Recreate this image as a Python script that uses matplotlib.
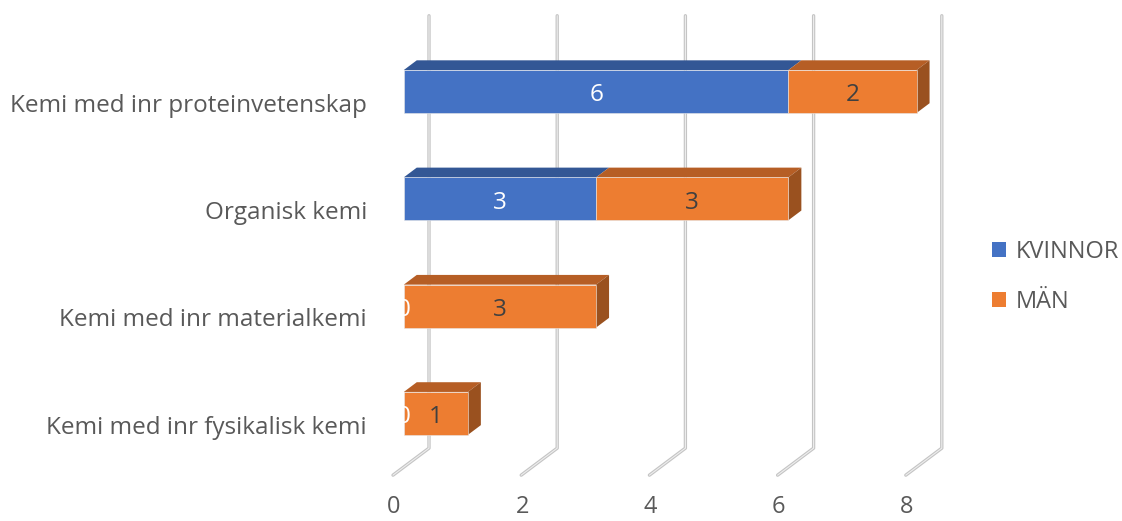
import matplotlib
matplotlib.use("Agg")
import matplotlib.pyplot as plt
from matplotlib.patches import Polygon, Patch

# ---- data ----
categories = ["Kemi med inr proteinvetenskap", "Organisk kemi",
              "Kemi med inr materialkemi", "Kemi med inr fysikalisk kemi"]
series_names = ["KVINNOR", "MÄN"]
kvinnor = [6, 3, 0, 0]
man = [2, 3, 3, 1]
x_ticks = [0, 2, 4, 6, 8]

# ---- style ----
plt.rcParams['font.family'] = ['Open Sans', 'DejaVu Sans']
TXT = '#595959'
front_cols = ['#4472C4', '#ED7D31']
top_cols = ['#335795', '#B65E25']
side_cols = ['#2B4A80', '#9A511F']
label_cols = ['white', '#404040']

W, H = 1122, 521
fig = plt.figure(figsize=(W / 100, H / 100), dpi=100)
ax = fig.add_axes([0, 0, 1, 1])
ax.axis('off')

# pixel mapping (front floor plane d=0): px = 393 + 64.1*v ; py = 99.6 + 107.3*i
SX, X0 = 64.1, 393.0
SY, Y0 = 107.3, 99.6
ax.set_xlim(-X0 / SX, (W - X0) / SX)
ax.set_ylim((H - Y0) / SY, -Y0 / SY)

DX = 36 / SX      # depth shift per unit depth (value units)
DY = -27 / SY     # depth shift per unit depth (category units)


def P(v, y, d):
    return (v + d * DX, y + d * DY)


# ---- gridlines (back wall + floor) ----
y_top, y_floor = -0.53, 3.5
for t in x_ticks:
    pts = [P(t, y_top, 1), P(t, y_floor, 1), P(t, y_floor, 0)]
    xs, ys = zip(*pts)
    ax.plot(xs, ys, color='#c4c4c4', lw=2.4, solid_capstyle='round', zorder=1)
    ax.plot(xs, ys, color='#eeeeee', lw=0.8, solid_capstyle='round', zorder=1.1)
    ax.text(t + 1 / SX, 3.8, str(t), ha='center', va='center',
            fontsize=17, color=TXT)

# ---- bars ----
d0, d1 = 0.3, 0.66
hh = 0.2
series = [kvinnor, man]
for i, cat in enumerate(categories):
    ax.text(-26 / SX, i + 0.113, cat, ha='right', va='baseline', fontsize=17.5, color=TXT)
    left = 0
    n_nonzero = [k for k in range(len(series)) if series[k][i] > 0]
    last = n_nonzero[-1] if n_nonzero else None
    for k, s in enumerate(series):
        v = s[i]
        x0, x1 = left, left + v
        if v > 0:
            top = [P(x0, i - hh, d0), P(x1, i - hh, d0), P(x1, i - hh, d1), P(x0, i - hh, d1)]
            ax.add_patch(Polygon(top, closed=True, fc=top_cols[k], ec='none', zorder=3 + k))
            if k == last:
                side = [P(x1, i - hh, d0), P(x1, i + hh, d0), P(x1, i + hh, d1), P(x1, i - hh, d1)]
                ax.add_patch(Polygon(side, closed=True, fc=side_cols[k], ec='none', zorder=3 + k))
            front = [P(x0, i - hh, d0), P(x1, i - hh, d0), P(x1, i + hh, d0), P(x0, i + hh, d0)]
            ax.add_patch(Polygon(front, closed=True, fc=front_cols[k], ec='#e8e8e8',
                                 lw=0.4, zorder=3.5 + k))
        lx, ly = P((x0 + x1) / 2, i, d0)
        ax.text(lx, ly + 4 / SY, str(v), ha='center', va='center', fontsize=17.5,
                color=label_cols[k], zorder=10)
        left = x1

# ---- legend ----
handles = [Patch(fc=front_cols[k], ec='none', label=series_names[k]) for k in range(2)]
leg = ax.legend(handles=handles, loc='center left', frameon=False,
                bbox_to_anchor=(992 / W, 1 - 277 / H), bbox_transform=fig.transFigure,
                fontsize=17, handlelength=0.6, handleheight=0.6, handletextpad=0.4,
                labelspacing=1.1, borderpad=0, borderaxespad=0)
for t in leg.get_texts():
    t.set_color(TXT)

fig.savefig('out.png', dpi=100)
